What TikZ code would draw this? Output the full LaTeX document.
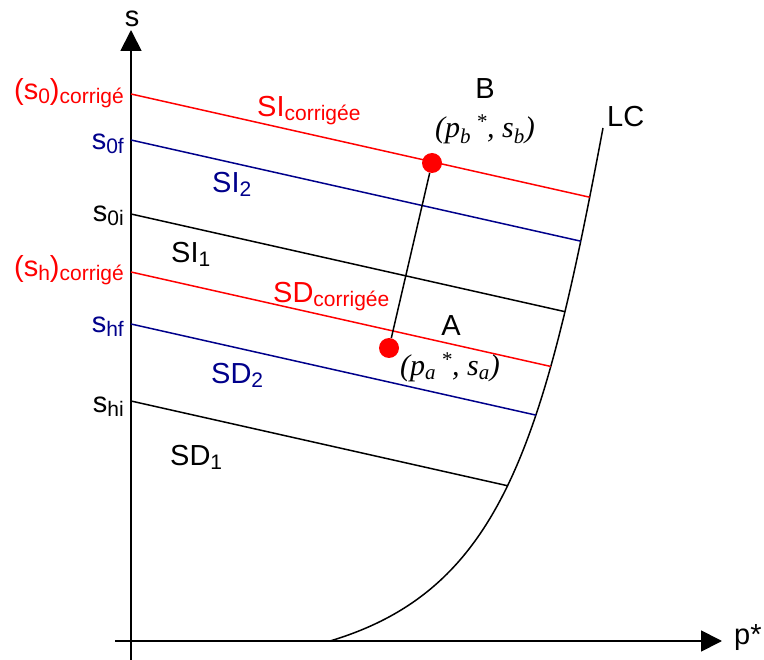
\documentclass[tikz,border=0pt]{standalone}
\usepackage{fontspec}
\setmainfont{Liberation Sans}
\newfontfamily\serifit{Liberation Serif}
\usetikzlibrary{arrows.meta,intersections}
\definecolor{corrred}{RGB}{255,0,0}
\definecolor{navy}{RGB}{0,0,139}
\newcommand{\lo}[1]{\raisebox{-4pt}{\fontsize{21}{21}\selectfont #1}}
\newcommand{\ptlab}[1]{{\serifit\itshape (p\textsubscript{#1}\,\textsuperscript{*}, s\textsubscript{#1})}}

\begin{document}
\begin{tikzpicture}[
  x=1pt, y=-1pt,
  axis/.style={line width=1.8pt, -{Triangle[length=21pt, width=21pt]}},
  level/.style={line width=1.5pt},
  lbl/.style={font=\fontsize{29}{32}\selectfont, inner sep=0pt},
  coordlbl/.style={font=\fontsize{30}{32}\selectfont, inner sep=0pt},
  dot/.style={circle, fill=corrred, minimum size=20pt, inner sep=0pt}
]
\useasboundingbox (0,0) rectangle (764,660);

% axes
\draw[axis] (131,660) -- (131,30);
\draw[axis] (115,641) -- (722,641);
\node[lbl, anchor=base] (saxis) at (132,27) {s};
\node[lbl, anchor=base west] (paxis) at (734,644) {p*};

% courbe LC
\draw[level, name path=lc] (330,641) .. controls (500,590) and (543,448) .. (603,128);
\node[lbl, anchor=base west] (lc) at (607,127) {LC};

% droites de niveau
\foreach \y/\c/\n in {94/corrred/a, 140/navy/b, 214/black/c, 272/corrred/d, 324/navy/e, 401/black/f}{
  \path[name path=ray\n] (131,\y) -- ++(600,135);
  \draw[level, \c, name intersections={of=lc and ray\n, by=end\n}] (131,\y) -- (end\n);
}

% valeurs sur l'axe
\node[lbl, anchor=base east, corrred] (s0c) at (124,100) {(s\lo{0})\lo{corrigé}};
\node[lbl, anchor=base east, navy] (s0f) at (124,150) {s\lo{0f}};
\node[lbl, anchor=base east] (s0i) at (124,222) {s\lo{0i}};
\node[lbl, anchor=base east, corrred] (shc) at (124,277) {(s\lo{h})\lo{corrigé}};
\node[lbl, anchor=base east, navy] (shf) at (124,333) {s\lo{hf}};
\node[lbl, anchor=base east] (shi) at (124,413) {s\lo{hi}};

% noms des droites
\node[lbl, anchor=base west, corrred] (sic) at (257,117) {SI\lo{corrigée}};
\node[lbl, anchor=base west, navy] (si2) at (212,193) {SI\lo{2}};
\node[lbl, anchor=base west] (si1) at (171,263) {SI\lo{1}};
\node[lbl, anchor=base west, corrred] (sdc) at (273,303) {SD\lo{corrigée}};
\node[lbl, anchor=base west, navy] (sd2) at (211,384) {SD\lo{2}};
\node[lbl, anchor=base west] (sd1) at (170,466) {SD\lo{1}};

% points A et B
\node[dot] (ptB) at (432,163) {};
\node[dot] (ptA) at (389,348) {};
\draw[level] (ptA) -- (ptB);
\node[lbl, anchor=base] (labB) at (485,99) {B};
\node[coordlbl, anchor=base] (coordB) at (485,138) {\ptlab{b}};
\node[lbl, anchor=base] (labA) at (451,336) {A};
\node[coordlbl, anchor=base] (coordA) at (450,376) {\ptlab{a}};
\end{tikzpicture}
\end{document}
